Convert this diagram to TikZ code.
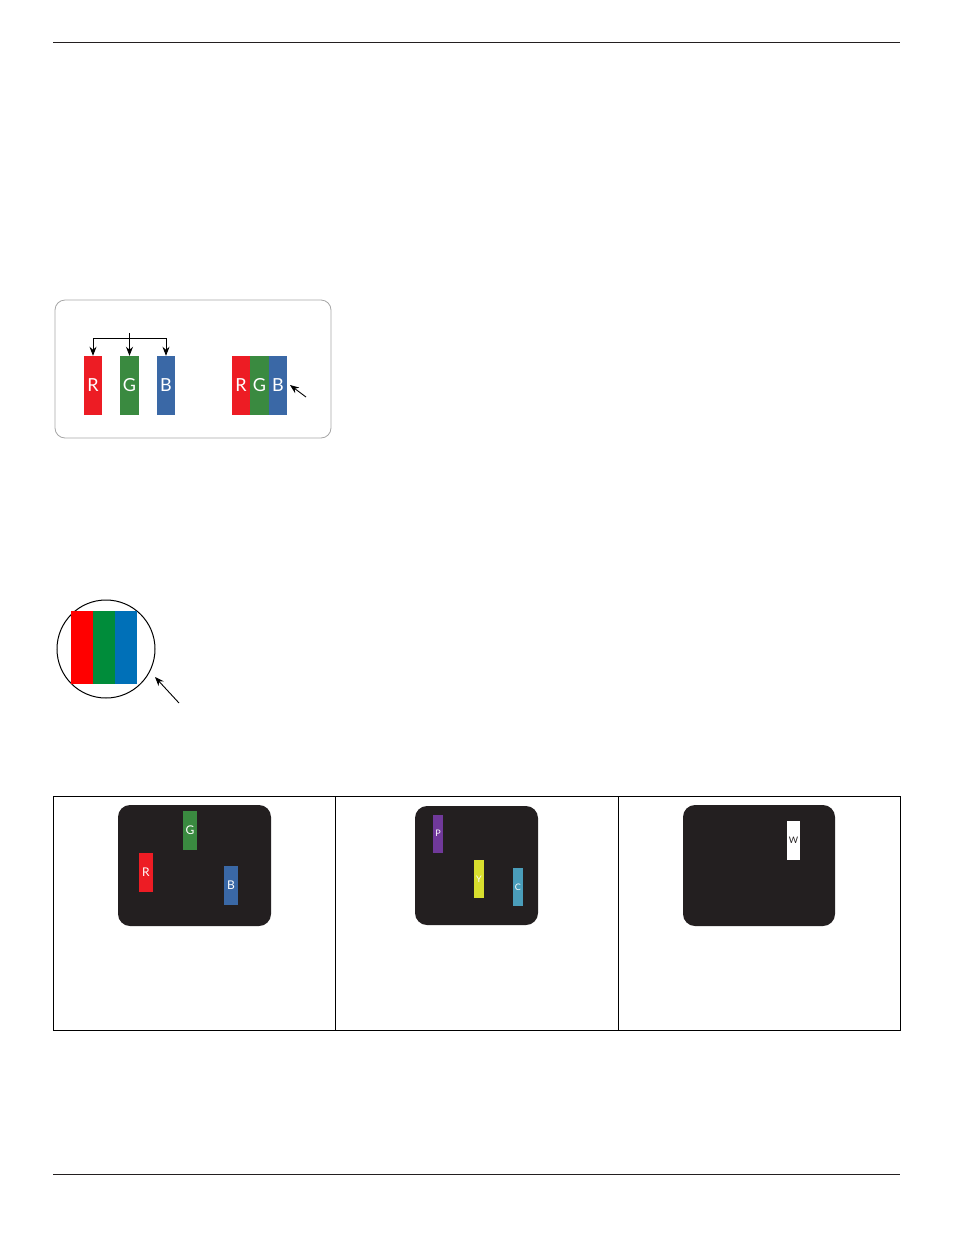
\documentclass[tikz,border=0pt]{standalone}
\usepackage{fontspec}
\setmainfont{Lato}
\usetikzlibrary{arrows.meta}
\definecolor{pr}{HTML}{ED1C24}
\definecolor{pg}{HTML}{3A8A40}
\definecolor{pb}{HTML}{3A68A6}
\definecolor{cr}{HTML}{FF0000}
\definecolor{cg}{HTML}{008C3A}
\definecolor{cb}{HTML}{0070B8}
\definecolor{dk}{HTML}{231F20}
\definecolor{pp}{HTML}{70399A}
\definecolor{py}{HTML}{D8DE2E}
\definecolor{pc}{HTML}{4A9DBA}
\tikzset{
  bar/.style={minimum width=#1, inner sep=0pt, text=white},
  bigbar/.style={bar=18pt, minimum height=59pt, font=\fontsize{18}{18}\selectfont},
  smallbar/.style={bar=14pt, minimum height=39pt, font=\fontsize{12}{12}\selectfont},
  tinybar/.style={bar=10pt, minimum height=38pt, font=\fontsize{9}{9}\selectfont},
  screen/.style={fill=dk, rounded corners=12pt, draw=none},
  arr/.style={-{Stealth[length=9pt,width=7pt]}, line width=0.9pt},
}
\begin{document}
\begin{tikzpicture}[x=1pt,y=-1pt]
\useasboundingbox (0,0) rectangle (954,1235);
% rules
\draw[line width=1pt, color=dk] (53,42) -- (900,42);
\draw[line width=1pt, color=dk] (53,1174) -- (900,1174);
% rounded frame
\draw[gray!70, line width=0.8pt, rounded corners=10pt] (55,300) rectangle (331,438);
\node[bigbar, fill=pr] (r1) at (93,385.5) {R};
\node[bigbar, fill=pg, minimum width=19pt] (g1) at (129.5,385.5) {G};
\node[bigbar, fill=pb] (b1) at (166,385.5) {B};
\coordinate (top) at (129.5,333);
\coordinate (hl) at (93,338);
\coordinate (hr) at (166,338);
\draw[line width=0.9pt] (top) -- (129.5,338);
\draw[line width=0.9pt] (hl) -- (hr);
\draw[arr] (hl) -- (r1.north);
\draw[arr] (129.5,338) -- (g1.north);
\draw[arr] (hr) -- (b1.north);
\node[bigbar, fill=pr] (r2) at (241,385.5) {R};
\node[bigbar, fill=pg, minimum width=19pt] (g2) at (259.5,385.5) {G};
\node[bigbar, fill=pb] (b2) at (278,385.5) {B};
\coordinate (a1) at (306,397);
\draw[arr] (a1) -- (290,385);
% circle
\node[draw, circle, line width=1pt, minimum size=98pt, inner sep=0pt] (circ) at (106,649) {};
\fill[cr] (71,611) rectangle (93,684);
\fill[cg] (93,611) rectangle (115,684);
\fill[cb] (115,611) rectangle (137,684);
\coordinate (a2) at (179,703);
\draw[arr] (a2) -- (155,677);
% table
\draw[line width=0.6pt] (53,796) rectangle (900,1030);
\draw[line width=0.6pt] (335,796) -- (335,1030);
\draw[line width=0.6pt] (618,796) -- (618,1030);
% screens
\fill[screen] (118,805) rectangle (271,926);
\node[smallbar, fill=pg] (sg) at (190,830.5) {G};
\node[smallbar, fill=pr] (sr) at (146,872.5) {R};
\node[smallbar, fill=pb] (sb) at (231,885) {B};
\fill[screen] (415,806) rectangle (538,925);
\node[tinybar, fill=pp] (sp) at (438,833.5) {P};
\node[tinybar, fill=py] (sy) at (479,879) {Y};
\node[tinybar, fill=pc] (sc) at (518,887) {C};
\fill[screen] (683,805) rectangle (835,926);
\node[bar=13pt, minimum height=39pt, fill=white, text=dk, font=\fontsize{9}{9}\selectfont] (sw) at (793.5,840.5) {W};
\end{tikzpicture}
\end{document}
